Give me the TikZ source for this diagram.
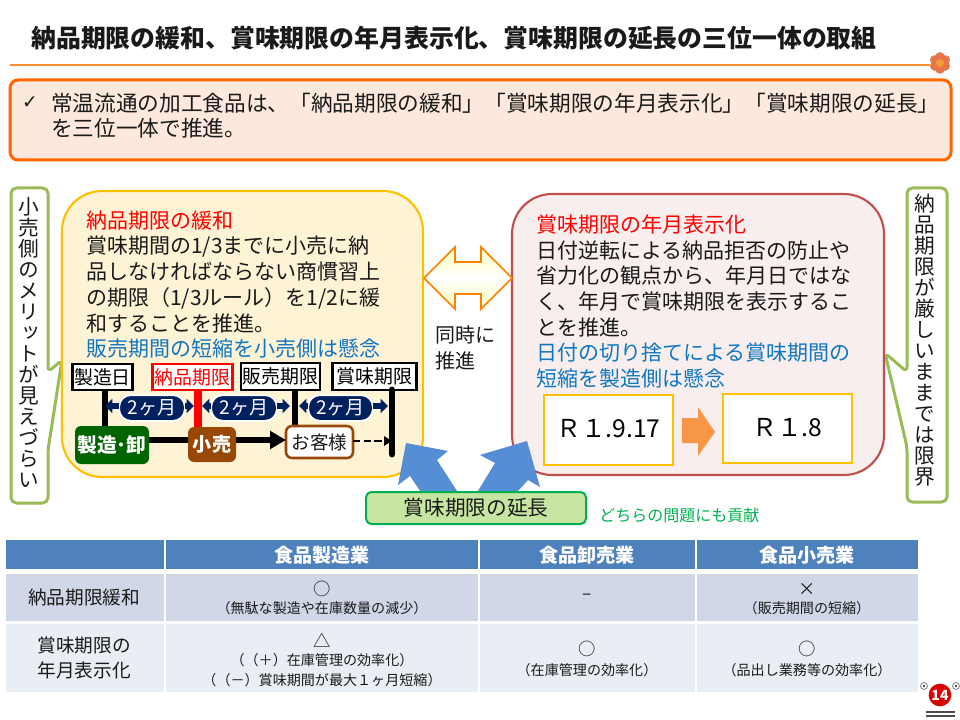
\documentclass[tikz,border=0pt]{standalone}
\usepackage{fontspec}
\setmainfont{Noto Sans CJK JP}
\newfontfamily\vfont[RawFeature={+vert}]{Noto Sans CJK JP}
\newfontfamily\symfont{DejaVu Sans}
\usetikzlibrary{arrows.meta,calc}
\definecolor{txt}{HTML}{1A1A1A}
\definecolor{orgline}{HTML}{FF6600}
\definecolor{orgfill}{HTML}{FCE8DC}
\definecolor{titleline}{HTML}{FF8C33}
\definecolor{ybord}{HTML}{FFC000}
\definecolor{yfill}{HTML}{FFF3D6}
\definecolor{rbord}{HTML}{C0504D}
\definecolor{rfill}{HTML}{F8EEED}
\definecolor{calloutc}{HTML}{9BBB59}
\definecolor{bluearrow}{HTML}{558ED5}
\definecolor{bluetxt}{HTML}{0F77C4}
\definecolor{navy}{HTML}{002060}
\definecolor{dgreen}{HTML}{006400}
\definecolor{brown1}{HTML}{984807}
\definecolor{grn}{HTML}{00B050}
\definecolor{grnfill}{HTML}{C6E5A0}
\definecolor{orgarrow}{HTML}{F79646}
\definecolor{thead}{HTML}{4F81BD}
\definecolor{trowa}{HTML}{D0D8E8}
\definecolor{trowb}{HTML}{E9EDF4}
\definecolor{flower}{HTML}{E8754A}
\newcommand{\fs}[2]{\fontsize{#1pt}{#2pt}\selectfont}
\tikzset{
  pxbox/.style n args={2}{rectangle,inner sep=0pt,outer sep=0pt,minimum width=#1*.75pt,minimum height=#2*.75pt},
  bubtext/.style={anchor=west,align=left,inner sep=0pt,text=txt,font=\fs{15.75}{19.3}},
  vtext/.style={align=center,inner sep=0pt,text=txt,font=\vfont\fs{15.5}{15.75}},
  callout/.style={draw=calloutc,fill=white,line width=2.25pt,rounded corners=4pt,line join=round},
  datebox/.style={draw=black,fill=white,line width=2.2pt,text=black,font=\fs{14.2}{16}},
  stem/.style={line width=5.2pt},
  pill/.style={fill=navy,draw=white,line width=1.5pt,rounded corners=9pt,text=white,font=\fs{14.3}{15}},
  tiny/.style={navy,line width=4.5pt,-{Triangle[length=5.5pt,width=10.5pt]},shorten >=0pt},
  cell/.style={pxbox={#1},draw=white,line width=1.1pt},
  tcell/.style={align=center,inner sep=0pt,text=txt,font=\fs{10.55}{15}},
  tsym/.style={inner sep=0pt,text=txt,font=\fs{13}{15}},
  thd/.style={inner sep=0pt,text=white,font=\bfseries\fs{14.3}{16}},
  tlab/.style={align=center,inner sep=0pt,text=txt,font=\fs{14}{18.8}},
}
\begin{document}
\begin{tikzpicture}[x=.75pt,y=-.75pt]
\useasboundingbox (0,0) rectangle (960,720);
\fill[white] (0,0) rectangle (960,720);
% title
\node[anchor=west,inner sep=0pt,text=txt,font=\bfseries\fs{18.65}{22}] (title) at (31,38) {納品期限の緩和、賞味期限の年月表示化、賞味期限の延長の三位一体の取組};
\draw[titleline,line width=1.2pt] (10,65) -- (930,65);
\foreach \a in {0,60,...,300}{\fill[flower] ($(940,63)+(\a+30:6)$) circle (3.6pt);}
\fill[flower!70!yellow] (940,63) circle (3pt);
% top box
\node[pxbox={941}{80},draw=orgline,fill=orgfill,line width=2.25pt,rounded corners=6pt] (topbox) at (480.5,120) {};
\node[inner sep=0pt,text=txt,font=\symfont\fs{14}{16}] (check) at (30,103) {✓};
\node[anchor=west,align=left,inner sep=0pt,text=txt,font=\fs{16.25}{18.8}] (toptext) at (51,116) {常温流通の加工食品は、「納品期限の緩和」「賞味期限の年月表示化」「賞味期限の延長」\\を三位一体で推進。};
% callouts
\draw[callout] (11,188) -- (48,188) -- (48,372) -- (62,360) -- (48,450) -- (48,503) -- (11,503) -- cycle;
\node[vtext] (leftv) at (29,342) {小\\売\\側\\の\\メ\\リ\\ッ\\ト\\が\\見\\え\\づ\\ら\\い};
\draw[callout] (907,188) -- (947,188) -- (947,502) -- (907,502) -- (907,447) -- (885,353) -- (907,372) -- cycle;
\node[vtext] (rightv) at (925,340) {納\\品\\期\\限\\が\\厳\\し\\い\\ま\\ま\\で\\は\\限\\界};
% bubbles
\node[pxbox={361}{286},draw=ybord,fill=yfill,line width=1.6pt,rounded corners=30pt] (lbub) at (242.5,334) {};
\node[pxbox={372}{281},draw=rbord,fill=rfill,line width=1.6pt,rounded corners=30pt] (rbub) at (698,334.5) {};
\node[bubtext] (ltext) at (86,284.5) {\textcolor{red}{納品期限の緩和}\\賞味期間の1/3までに小売に納\\品しなければならない商慣習上\\の期限（1/3ルール）を1/2に緩\\和することを推進。\\\textcolor{bluetxt}{販売期間の短縮を小売側は懸念}};
\node[bubtext] (rtext) at (536,301.5) {\textcolor{red}{賞味期限の年月表示化}\\日付逆転による納品拒否の防止や\\省力化の観点から、年月日ではな\\く、年月で賞味期限を表示するこ\\とを推進。\\\textcolor{bluetxt}{日付の切り捨てによる賞味期間の}\\\textcolor{bluetxt}{短縮を製造側は懸念}};
% double arrow
\draw[draw=orange,line width=1.2pt,top color=yellow!25,bottom color=yellow!25,middle color=white,line join=miter]
 (424,278) -- (455,247) -- (455,262) -- (481,262) -- (481,247) -- (512,278) -- (481,309) -- (481,294) -- (455,294) -- (455,309) -- cycle;
\node[anchor=west,align=left,inner sep=0pt,text=txt,font=\fs{15}{20}] (samet) at (435,348) {同時に\\推進};
% R boxes
\node[pxbox={129}{70},draw=ybord,fill=white,line width=1.6pt,font=\fs{18.5}{20},text=black] (r1) at (608.5,430) {\raisebox{2pt}{Ｒ１.9.17}};
\node[pxbox={129}{69},draw=ybord,fill=white,line width=1.6pt,font=\fs{18.5}{20},text=black] (r2) at (787.5,428.5) {\raisebox{2pt}{Ｒ１.8}};
\fill[orgarrow] (682,418) -- (698,418) -- (698,407) -- (715,432) -- (698,456) -- (698,443) -- (682,443) -- cycle;
% timeline stems
\node[pxbox={60}{26},datebox] (d1) at (102.5,377) {製造日};
\node[pxbox={80}{26},datebox,draw=red,text=red] (d2) at (192.5,377) {納品期限};
\node[pxbox={79}{27},datebox] (d3) at (280.5,376.5) {販売期限};
\node[pxbox={84}{27},datebox] (d4) at (374.5,376.5) {賞味期限};
\coordinate (s1) at (105,428);
\coordinate (s2) at (198,429);
\coordinate (s3) at (295,428);
\coordinate (s4) at (392,454);
\draw[stem] (105,390) -- (s1);
\draw[stem,red,line width=6pt] (198,390) -- (s2);
\draw[stem] (295,390) -- (s3);
\draw[stem,line cap=round] (392,390) -- (s4);
% pills
\node[pxbox={66}{26},pill] (p1) at (152,408) {2ヶ月};
\node[pxbox={66}{26},pill] (p2) at (244,408) {2ヶ月};
\node[pxbox={65}{26},pill] (p3) at (340.5,408) {2ヶ月};
\coordinate (a1l) at (105,406);\coordinate (a1r) at (194,406);
\coordinate (a2l) at (202,406);\coordinate (a2r) at (290,406);
\coordinate (a3l) at (299,406);\coordinate (a3r) at (388,406);
\draw[tiny] (p1.west|-a1l) -- (a1l);
\draw[tiny] (p1.east|-a1r) -- (a1r);
\draw[tiny] (p2.west|-a2l) -- (a2l);
\draw[tiny] (p2.east|-a2r) -- (a2r);
\draw[tiny] (p3.west|-a3l) -- (a3l);
\draw[tiny] (p3.east|-a3r) -- (a3r);
% flow row
\node[pxbox={74}{38},fill=dgreen,rounded corners=4.5pt,text=white,font=\bfseries\fs{14.8}{16}] (maker) at (112,445) {製造･卸};
\node[pxbox={48}{35},fill=brown1,rounded corners=4.5pt,text=white,font=\bfseries\fs{14.3}{16}] (retail) at (212,444.5) {小売};
\node[pxbox={67}{32},draw=brown1,fill=white,line width=1.9pt,rounded corners=4.5pt,text=txt,font=\fs{13.9}{16}] (cust) at (319.5,442) {お客様};
\draw[line width=4.5pt,draw=black] (maker.east|-0,440) -- (retail.west|-0,440);
\draw[line width=4.5pt,-{Triangle[length=12pt,width=13pt]}] (retail.east|-0,440) -- (cust.west|-0,440);
\draw[line width=1.9pt,dash pattern=on 5.5pt off 2.5pt,-{Triangle[length=6pt,width=7pt]}] (cust.east|-0,441) -- (s4|-0,441);
% blue arrows
\fill[bluearrow] (406,443) -- (448,451) -- (437,460) -- (457,491) -- (420,491) -- (410,476) -- (398,485) -- cycle;
\fill[bluearrow] (527,441) -- (480,455) -- (495,463) -- (478,491) -- (518,491) -- (528,480) -- (540,487) -- cycle;
% green box
\node[pxbox={220}{32},draw=grn,fill=grnfill,line width=1.5pt,rounded corners=4pt,text=txt,font=\fs{15.5}{18}] (ext) at (476,508) {賞味期限の延長};
\node[anchor=west,inner sep=0pt,text=grn,font=\fs{12}{15}] (both) at (599,515) {どちらの問題にも貢献};
% table
\node[cell={160}{31},fill=thead] (h0) at (85,554.5) {};
\node[cell={314}{31},fill=thead] (h1) at (322,554.5) {};
\node[cell={217}{31},fill=thead] (h2) at (587.5,554.5) {};
\node[cell={223}{31},fill=thead] (h3) at (807.5,554.5) {};
\node[cell={160}{49},fill=trowa] (a0) at (85,597.5) {};
\node[cell={314}{49},fill=trowa] (a1) at (322,597.5) {};
\node[cell={217}{49},fill=trowa] (a2) at (587.5,597.5) {};
\node[cell={223}{49},fill=trowa] (a3) at (807.5,597.5) {};
\node[cell={160}{69},fill=trowb] (b0) at (85,658) {};
\node[cell={314}{69},fill=trowb] (b1) at (322,658) {};
\node[cell={217}{69},fill=trowb] (b2) at (587.5,658) {};
\node[cell={223}{69},fill=trowb] (b3) at (807.5,658) {};
\node[thd] (th1) at (322,555) {食品製造業};
\node[thd] (th2) at (587,555) {食品卸売業};
\node[thd] (th3) at (807,555) {食品小売業};
\node[tlab] (l1) at (84,597) {納品期限緩和};
\node[tlab] (l2) at (84,657.5) {賞味期限の\\年月表示化};
\node[tsym] (c11s) at (322,589) {○};
\node[tcell] (c11) at (322,608) {（無駄な製造や在庫数量の減少）};
\node[tsym] (c12s) at (587,597) {–};
\node[tsym] (c13s) at (807,589) {×};
\node[tcell] (c13) at (807,608) {（販売期間の短縮）};
\node[tsym] (c21s) at (322,640) {△};
\node[tcell] (c21) at (322,670) {（（＋）在庫管理の効率化）\\（（－）賞味期間が最大１ヶ月短縮）};
\node[tsym] (c22s) at (587,649) {○};
\node[tcell] (c22) at (587,670) {（在庫管理の効率化）};
\node[tsym] (c23s) at (807,649) {○};
\node[tcell] (c23) at (807,670) {（品出し業務等の効率化）};
% page badge
\draw[gray,line width=.6pt,fill=white] (924,686) circle (2.6pt);
\draw[gray,line width=.6pt,fill=white] (956,686) circle (2.6pt);
\fill[gray!60!black] (924,686) circle (1pt);
\fill[gray!60!black] (956,686) circle (1pt);
\node[circle,fill=red!85!black,inner sep=0pt,minimum size=17pt,text=white,font=\bfseries\fs{10.5}{12}] (page) at (940,695) {14};
\draw[black!70,line width=.8pt] (926,712) -- (955,712);
\draw[black!70,line width=.8pt] (926,716) -- (955,716);
\end{tikzpicture}
\end{document}
